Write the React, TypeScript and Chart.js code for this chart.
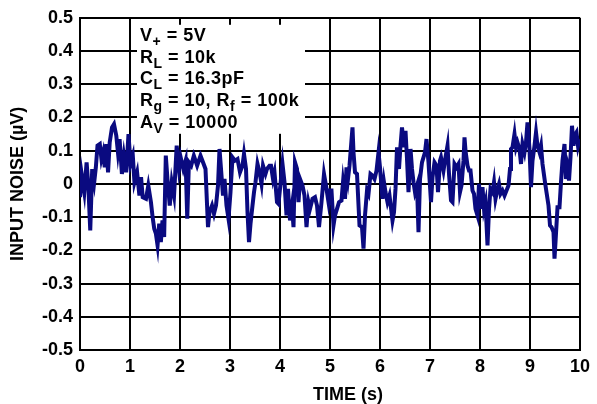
import { useEffect, useRef } from 'react';
import { Chart, registerables } from 'chart.js';

Chart.register(...registerables);

// Time (s) of each sample
const TIMES: number[] = [
  0.0, 0.033, 0.086, 0.132, 0.165, 0.205, 0.244, 0.284, 0.317, 0.35,
  0.396, 0.429, 0.462, 0.495, 0.528, 0.561, 0.594, 0.64, 0.68, 0.726,
  0.759, 0.792, 0.838, 0.878, 0.924, 0.97, 1.01, 1.056, 1.089, 1.142,
  1.188, 1.221, 1.254, 1.32, 1.366, 1.419, 1.452, 1.485, 1.518, 1.551,
  1.584, 1.617, 1.65, 1.683, 1.716, 1.749, 1.795, 1.835, 1.881, 1.934,
  1.98, 2.013, 2.066, 2.112, 2.145, 2.178, 2.224, 2.277, 2.343, 2.41,
  2.46, 2.51, 2.56, 2.59, 2.64, 2.68, 2.72, 2.76, 2.79, 2.82,
  2.86, 2.89, 2.93, 2.97, 3.01, 3.05, 3.1, 3.15, 3.2, 3.25,
  3.28, 3.32, 3.35, 3.38, 3.41, 3.45, 3.48, 3.51, 3.55, 3.59,
  3.63, 3.66, 3.71, 3.74, 3.79, 3.82, 3.86, 3.89, 3.94, 3.97,
  4.0, 4.05, 4.09, 4.13, 4.16, 4.2, 4.24, 4.27, 4.3, 4.34,
  4.37, 4.4, 4.45, 4.49, 4.53, 4.57, 4.6, 4.65, 4.7, 4.74,
  4.78, 4.83, 4.88, 4.92, 4.97, 5.0, 5.03, 5.07, 5.1, 5.14,
  5.18, 5.23, 5.26, 5.3, 5.33, 5.36, 5.39, 5.45, 5.47, 5.5,
  5.54, 5.59, 5.64, 5.67, 5.7, 5.74, 5.77, 5.81, 5.85, 5.89,
  5.93, 5.97, 6.0, 6.05, 6.08, 6.11, 6.15, 6.19, 6.25, 6.28,
  6.31, 6.34, 6.38, 6.41, 6.44, 6.48, 6.51, 6.54, 6.57, 6.61,
  6.64, 6.67, 6.7, 6.74, 6.77, 6.8, 6.84, 6.9, 6.93, 6.97,
  7.02, 7.05, 7.09, 7.13, 7.16, 7.2, 7.22, 7.27, 7.31, 7.35,
  7.38, 7.42, 7.45, 7.49, 7.53, 7.57, 7.6, 7.63, 7.67, 7.69,
  7.71, 7.75, 7.78, 7.81, 7.85, 7.88, 7.91, 7.95, 7.98, 8.01,
  8.05, 8.08, 8.11, 8.15, 8.18, 8.21, 8.25, 8.28, 8.31, 8.35,
  8.38, 8.41, 8.45, 8.49, 8.53, 8.57, 8.6, 8.62, 8.65, 8.69,
  8.72, 8.75, 8.79, 8.82, 8.85, 8.89, 8.92, 8.95, 8.99, 9.02,
  9.05, 9.09, 9.12, 9.15, 9.19, 9.22, 9.25, 9.3, 9.33, 9.37,
  9.4, 9.43, 9.47, 9.49, 9.51, 9.55, 9.59, 9.62, 9.65, 9.69,
  9.72, 9.75, 9.78, 9.81, 9.84, 9.87, 9.89, 9.93, 9.96, 9.99,
];

// Input noise (µV) at each sample
const NOISE: number[] = [
  -0.04, 0.03, -0.025, 0.065, 0.0, -0.14, 0.045, 0.005, 0.05, 0.115,
  0.12, 0.075, 0.095, 0.05, 0.12, 0.035, 0.125, 0.17, 0.18, 0.145,
  0.095, 0.135, 0.03, 0.085, 0.035, 0.15, 0.06, 0.085, 0.005, 0.035,
  -0.035, 0.02, -0.04, -0.045, -0.005, -0.055, -0.1, -0.135, -0.15, -0.185,
  -0.12, -0.175, -0.11, -0.16, 0.085, 0.015, -0.065, 0.005, -0.035, 0.115,
  0.045, 0.08, 0.045, 0.07, -0.105, 0.065, 0.055, 0.085, 0.055, 0.085,
  0.065, 0.045, -0.13, -0.085, -0.065, -0.09, -0.065, -0.005, 0.105, 0.045,
  -0.035, 0.015, -0.065, -0.105, -0.025, 0.08, 0.07, 0.075, 0.035, 0.055,
  0.09, 0.045, -0.085, -0.175, -0.12, -0.065, -0.025, 0.005, 0.06, 0.035,
  0.0, 0.055, 0.03, 0.045, 0.055, 0.055, 0.015, 0.035, -0.055, -0.06,
  -0.015, 0.06, 0.005, -0.095, -0.015, -0.11, -0.065, -0.13, 0.065, 0.045,
  -0.055, 0.015, -0.005, -0.035, -0.13, -0.055, -0.075, -0.045, -0.04, -0.065,
  -0.13, -0.055, 0.03, -0.005, -0.055, -0.02, -0.02, -0.125, -0.095, -0.075,
  -0.055, -0.05, 0.005, -0.045, 0.05, 0.015, 0.055, 0.17, 0.095, 0.035,
  0.03, -0.125, -0.13, -0.195, -0.095, -0.02, -0.03, 0.03, 0.025, 0.015,
  0.04, 0.095, 0.05, -0.045, 0.005, -0.025, -0.055, -0.035, -0.11, -0.085,
  -0.015, 0.11, 0.045, 0.115, 0.17, 0.11, 0.16, 0.075, -0.025, 0.105,
  0.045, 0.005, -0.025, -0.005, -0.145, 0.015, 0.065, 0.095, 0.135, 0.065,
  -0.055, 0.02, 0.065, 0.055, -0.025, 0.07, 0.08, 0.04, 0.08, 0.115,
  0.03, -0.05, -0.055, 0.06, 0.05, 0.06, -0.025, -0.005, 0.07, 0.14,
  0.1, 0.055, 0.04, 0.04, -0.02, -0.03, -0.075, -0.095, 0.0, -0.075,
  -0.01, -0.075, -0.055, -0.185, -0.075, -0.015, -0.025, 0.005, -0.045, -0.015,
  0.0, -0.03, -0.02, -0.035, -0.02, -0.005, 0.045, 0.105, 0.11, 0.15,
  0.11, 0.125, 0.105, 0.06, 0.12, 0.095, 0.125, 0.185, 0.105, -0.01,
  0.07, 0.115, 0.155, 0.115, 0.095, 0.115, 0.06, 0.005, -0.025, -0.065,
  -0.125, -0.13, -0.145, -0.225, -0.175, -0.07, -0.07, 0.005, 0.07, 0.12,
  0.015, 0.045, 0.01, 0.08, 0.175, 0.115, 0.145, 0.155, 0.115, 0.135,
];

const X_TICKS: number[] = [0, 1, 2, 3, 4, 5, 6, 7, 8, 9, 10];
const X_TICK_LABELS: string[] = ['0', '1', '2', '3', '4', '5', '6', '7', '8', '9', '10'];
const Y_TICKS: number[] = [-0.5, -0.4, -0.3, -0.2, -0.1, 0, 0.1, 0.2, 0.3, 0.4, 0.5];
const Y_TICK_LABELS: string[] = ['-0.5', '-0.4', '-0.3', '-0.2', '-0.1', '0', '0.1', '0.2', '0.3', '0.4', '0.5'];

const X_TITLE = 'TIME (s)';
const Y_TITLE = 'INPUT NOISE (µV)';

// Conditions note: each line is a list of [text, isSubscript]
const NOTE_LINES: [string, boolean][][] = [
  [['V', false], ['+', true], [' = 5V', false]],
  [['R', false], ['L', true], [' = 10k', false]],
  [['C', false], ['L', true], [' = 16.3pF', false]],
  [['R', false], ['g', true], [' = 10, R', false], ['f', true], [' = 100k', false]],
  [['A', false], ['V', true], [' = 10000', false]],
];

const FONT = 'Liberation Sans, Arial, Helvetica, sans-serif';

const notePlugin = {
  id: 'noteBox',
  beforeDatasetsDraw(chart: any) {
    const { ctx, chartArea } = chart;
    const left = chartArea.left + 57;
    const top = chartArea.top + 7;
    const right = chartArea.left + 225;
    const bottom = chartArea.top + 116;
    ctx.save();
    ctx.fillStyle = '#ffffff';
    ctx.fillRect(left, top, right - left, bottom - top);
    ctx.fillStyle = '#000000';
    ctx.textBaseline = 'alphabetic';
    ctx.textAlign = 'left';
    try { (ctx as any).letterSpacing = '0.5px'; } catch (e) { /* ignore */ }
    const lineGap = 21.75;
    NOTE_LINES.forEach((segs, i) => {
      let x = left + 3;
      const base = top + 16 + i * lineGap;
      segs.forEach(([txt, sub]) => {
        ctx.font = sub ? `bold 14px ${FONT}` : `bold 18px ${FONT}`;
        ctx.fillText(txt, x, sub ? base + 5 : base);
        x += ctx.measureText(txt).width;
      });
    });
    ctx.restore();
  },
  afterDraw(chart: any) {
    const { ctx, chartArea } = chart;
    ctx.save();
    ctx.fillStyle = '#000000';
    ctx.font = `bold 18px ${FONT}`;
    ctx.textAlign = 'center';
    ctx.textBaseline = 'middle';
    ctx.fillText(X_TITLE, (chartArea.left + chartArea.right) / 2 + 18, 395);
    ctx.restore();
  },
};

export default function App() {
  const canvasRef = useRef<HTMLCanvasElement | null>(null);

  useEffect(() => {
    if (!canvasRef.current) return;
    const points = TIMES.map((t, i) => ({ x: t, y: NOISE[i] }));
    const chart = new Chart(canvasRef.current, {
      type: 'line',
      data: {
        datasets: [
          {
            data: points,
            borderColor: '#0a0a80',
            borderWidth: 4,
            pointRadius: 0,
            tension: 0,
            fill: false,
          },
        ],
      },
      options: {
        animation: false,
        responsive: true,
        maintainAspectRatio: false,
        layout: { padding: { top: 15, right: 17, left: 0, bottom: 0 } },
        plugins: {
          legend: { display: false },
          tooltip: { enabled: false },
        },
        scales: {
          x: {
            type: 'linear',
            min: 0,
            max: 10,
            afterBuildTicks: (scale: any) => {
              scale.ticks = X_TICKS.map((v) => ({ value: v }));
            },
            afterFit: (scale: any) => {
              scale.height = 54;
            },
            ticks: {
              color: '#000',
              padding: 6,
              font: { family: FONT, size: 18, weight: 'bold' },
              callback: (_v: any, i: number) => X_TICK_LABELS[i],
              maxRotation: 0,
            },
            grid: { color: '#000', lineWidth: 2, drawTicks: false },
            border: { color: '#000', width: 2 },
            title: { display: false },
          },
          y: {
            type: 'linear',
            min: -0.5,
            max: 0.5,
            afterBuildTicks: (scale: any) => {
              scale.ticks = Y_TICKS.map((v) => ({ value: v }));
            },
            afterFit: (scale: any) => {
              scale.width = 80;
            },
            ticks: {
              color: '#000',
              padding: 7,
              font: { family: FONT, size: 18, weight: 'bold' },
              callback: (_v: any, i: number) => Y_TICK_LABELS[i],
            },
            grid: { color: '#000', lineWidth: 2, drawTicks: false },
            border: { color: '#000', width: 2 },
            title: {
              display: true,
              text: Y_TITLE,
              color: '#000',
              font: { family: FONT, size: 18, weight: 'bold' },
              padding: { top: 7, bottom: 0 },
            },
          },
        },
      },
      plugins: [notePlugin],
    });
    return () => chart.destroy();
  }, []);

  return (
    <div style={{ position: 'fixed', left: 0, top: 0, width: 597, height: 404, background: '#fff' }}>
      <canvas ref={canvasRef} />
    </div>
  );
}
